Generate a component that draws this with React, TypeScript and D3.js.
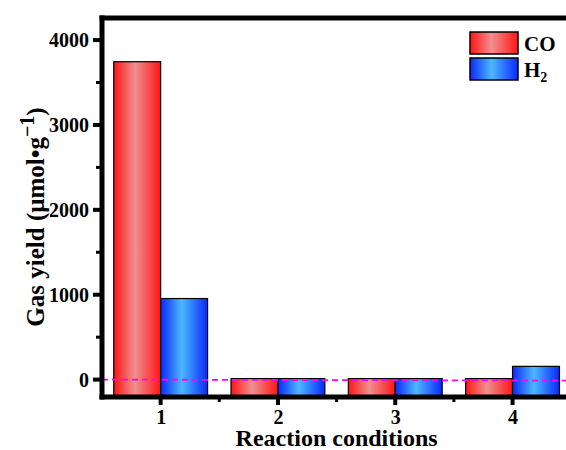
import React, { useEffect, useRef } from 'react';
import * as d3 from 'd3';

const categories = [1, 2, 3, 4];
const seriesNames = ['CO', 'H2'];
const coYield = [3745, 12, 12, 12];
const h2Yield = [955, 12, 12, 156];
const yTicks = [0, 1000, 2000, 3000, 4000];
const yMinorTicks = [500, 1500, 2500, 3500];
const xMinorTicks = [1.5, 2.5, 3.5];

const FONT = '"Liberation Serif", "Times New Roman", serif';

export default function App() {
    const ref = useRef<SVGSVGElement>(null);

    useEffect(() => {
        const svg = d3.select(ref.current);
        svg.selectAll('*').remove();

        const left = 102, top = 18, bottom = 397;

        const x = d3.scaleLinear().domain([0.5, 4.5]).range([left, left + 4 * 117.3]);
        const y = d3.scaleLinear().domain([-205, 4260]).range([bottom, top]);
        const barW = x(1.4) - x(1);

        const defs = svg.append('defs');
        const grads = [
            { id: 'gCO', edge: '#ff1414', mid: '#f09090' },
            { id: 'gH2', edge: '#0a28ff', mid: '#4cb8ff' },
        ];
        grads.forEach((g) => {
            const lg = defs.append('linearGradient').attr('id', g.id)
                .attr('x1', '0%').attr('x2', '100%').attr('y1', '0%').attr('y2', '0%');
            lg.append('stop').attr('offset', '0%').attr('stop-color', g.edge);
            lg.append('stop').attr('offset', '45%').attr('stop-color', g.mid);
            lg.append('stop').attr('offset', '100%').attr('stop-color', g.edge);
        });

        // bars, drawn from the bottom of the axis
        const series = [
            { values: coYield, fill: 'url(#gCO)', offset: -0.4 },
            { values: h2Yield, fill: 'url(#gH2)', offset: 0 },
        ];
        series.forEach((s) => {
            svg.append('g').selectAll('rect')
                .data(categories)
                .enter()
                .append('rect')
                .attr('x', (d) => x(d + s.offset))
                .attr('y', (d, i) => y(s.values[i]))
                .attr('width', barW)
                .attr('height', (d, i) => y(-205) - y(s.values[i]))
                .attr('fill', s.fill)
                .attr('stroke', '#000')
                .attr('stroke-width', 1.2);
        });

        // zero line
        svg.append('line')
            .attr('x1', x(0.5)).attr('x2', 566)
            .attr('y1', y(0)).attr('y2', y(0) + 1)
            .attr('stroke', '#ff00ff')
            .attr('stroke-width', 1.8)
            .attr('stroke-dasharray', '6,4');

        // y axis
        const yAxis = svg.append('g').attr('transform', `translate(${left},0)`);
        yAxis.call(d3.axisLeft(y).tickValues(yTicks).tickFormat(d3.format('d')).tickSize(0).tickPadding(13));
        yAxis.select('.domain').remove();
        yAxis.selectAll('.tick text')
            .attr('font-family', FONT).attr('font-size', 20).attr('font-weight', 'bold').attr('fill', '#000');
        yAxis.selectAll('.major').data(yTicks).enter().append('rect')
            .attr('x', -9).attr('width', 9)
            .attr('y', (d) => y(d) - 2).attr('height', 4)
            .attr('fill', '#000');
        yAxis.selectAll('.minor').data(yMinorTicks).enter().append('rect')
            .attr('x', -6).attr('width', 6)
            .attr('y', (d) => y(d) - 1.5).attr('height', 3)
            .attr('fill', '#000');

        // x axis
        const xAxis = svg.append('g').attr('transform', `translate(0,${bottom})`);
        xAxis.call(d3.axisBottom(x).tickValues(categories).tickFormat(d3.format('d')).tickSize(0).tickPadding(13));
        xAxis.select('.domain').remove();
        xAxis.selectAll('.tick text')
            .attr('font-family', FONT).attr('font-size', 20).attr('font-weight', 'bold').attr('fill', '#000');
        xAxis.selectAll('.major').data(categories).enter().append('rect')
            .attr('x', (d) => x(d) - 2).attr('width', 4)
            .attr('y', 0).attr('height', 8)
            .attr('fill', '#000');
        xAxis.selectAll('.minor').data(xMinorTicks).enter().append('rect')
            .attr('x', (d) => x(d) - 1.5).attr('width', 3)
            .attr('y', 0).attr('height', 5)
            .attr('fill', '#000');

        // frame (thick black bars)
        svg.append('rect').attr('x', left - 2.5).attr('y', bottom - 2.5).attr('width', 566 - left + 3).attr('height', 5).attr('fill', '#000');
        svg.append('rect').attr('x', left - 2.5).attr('y', top - 2.5).attr('width', 566 - left + 3).attr('height', 5).attr('fill', '#000');
        svg.append('rect').attr('x', left - 2.5).attr('y', top - 2.5).attr('width', 5).attr('height', bottom - top + 5).attr('fill', '#000');

        // axis titles
        svg.append('text')
            .attr('x', x(2.5)).attr('y', 446)
            .attr('text-anchor', 'middle')
            .attr('font-family', FONT).attr('font-size', 24).attr('font-weight', 'bold')
            .text('Reaction conditions');

        const yt = svg.append('text')
            .attr('transform', 'translate(44,217) rotate(-90)')
            .attr('text-anchor', 'middle')
            .attr('font-family', FONT).attr('font-size', 25).attr('font-weight', 'bold');
        yt.append('tspan').text('Gas yield (μmol•g');
        yt.append('tspan').attr('dy', -10).attr('font-size', 20).text('−1');
        yt.append('tspan').attr('dy', 10).text(')');

        // legend
        const lg = svg.append('g').attr('transform', 'translate(470,32)');
        seriesNames.forEach((name, i) => {
            const row = lg.append('g').attr('transform', `translate(0,${i * 26})`);
            row.append('rect').attr('width', 48).attr('height', 22)
                .attr('fill', `url(#${grads[i].id})`)
                .attr('stroke', '#000').attr('stroke-width', 1.5);
            const t = row.append('text').attr('x', 54).attr('y', 19)
                .attr('font-family', FONT).attr('font-size', 21).attr('font-weight', 'bold');
            if (name === 'H2') {
                t.append('tspan').text('H');
                t.append('tspan').attr('dy', 5).attr('font-size', 14).text('2');
            } else {
                t.text(name);
            }
        });
    }, []);

    return (
        <svg ref={ref} width={566} height={450}
            style={{ position: 'absolute', left: 0, top: 0, background: '#fff' }} />
    );
}
